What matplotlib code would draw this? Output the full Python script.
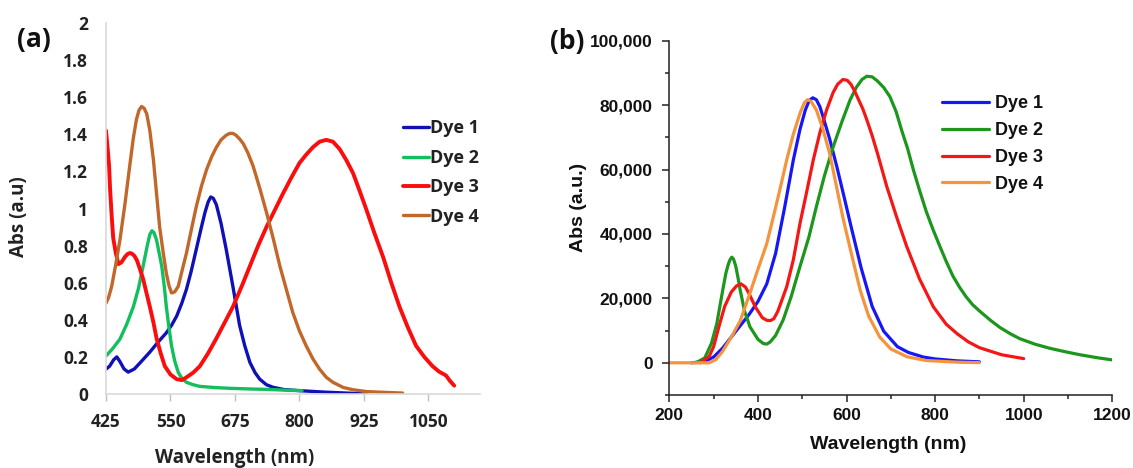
################
# IMPORTS
################
import matplotlib
matplotlib.use("Agg")
import matplotlib.pyplot as plt
import numpy as np

################
# DATA
################
# panel (a): measured absorbance, values read off the chart
wl_a_dye1 = [425, 432, 440, 446, 452, 460, 468, 480, 495, 510, 526, 542, 552, 562, 572, 581,
             590, 600, 610, 617, 623, 628, 633, 639, 648, 658, 671, 684, 694, 704, 714, 723,
             736, 749, 770, 800, 850, 900, 929]
abs_a_dye1 = [0.134, 0.15, 0.185, 0.2, 0.175, 0.135, 0.118, 0.135, 0.18, 0.226, 0.28, 0.33, 0.37,
              0.42, 0.49, 0.565, 0.66, 0.78, 0.9, 0.98, 1.035, 1.062, 1.055, 1.02, 0.92, 0.78,
              0.58, 0.37, 0.26, 0.17, 0.115, 0.08, 0.05, 0.036, 0.024, 0.018, 0.01, 0.004, 0.0]

wl_a_dye2 = [425, 438, 452, 465, 478, 488, 497, 505, 510, 514, 518, 523, 528, 533, 538, 542,
             547, 552, 558, 565, 572, 581, 594, 607, 640, 671, 705, 736, 770, 805]
abs_a_dye2 = [0.205, 0.245, 0.296, 0.375, 0.47, 0.57, 0.69, 0.8, 0.86, 0.88, 0.87, 0.83, 0.76,
              0.69, 0.58, 0.47, 0.36, 0.26, 0.18, 0.117, 0.085, 0.063, 0.05, 0.041, 0.034, 0.03,
              0.027, 0.025, 0.021, 0.018]

wl_a_dye3 = [425, 428, 431, 433, 436, 439, 444, 449, 455, 462, 467, 471, 475, 480, 485, 490,
             497, 503, 510, 517, 523, 531, 539, 550, 562, 572, 581, 594, 607, 623, 639, 655,
             671, 688, 704, 720, 736, 752, 768, 784, 800, 813, 826, 839, 852, 865, 878, 891,
             904, 916, 929, 945, 962, 978, 994, 1010, 1026, 1042, 1058, 1071, 1084, 1092, 1100]
abs_a_dye3 = [1.42, 1.33, 1.23, 1.1, 0.96, 0.84, 0.76, 0.7, 0.71, 0.74, 0.755, 0.76, 0.757,
              0.745, 0.72, 0.68, 0.62, 0.55, 0.47, 0.385, 0.3, 0.22, 0.15, 0.105, 0.08, 0.075,
              0.09, 0.115, 0.15, 0.22, 0.3, 0.385, 0.47, 0.58, 0.69, 0.8, 0.9, 0.99, 1.08, 1.165,
              1.245, 1.29, 1.33, 1.36, 1.37, 1.36, 1.32, 1.26, 1.19, 1.1, 1.0, 0.87, 0.74, 0.6,
              0.47, 0.36, 0.26, 0.2, 0.15, 0.12, 0.1, 0.07, 0.045]

wl_a_dye4 = [425, 430, 436, 444, 452, 462, 471, 478, 484, 489, 494, 499, 504, 510, 517, 523,
             529, 536, 542, 547, 552, 558, 565, 572, 581, 590, 600, 610, 620, 630, 639, 648,
             658, 665, 671, 677, 684, 691, 700, 710, 723, 736, 749, 762, 775, 787, 800, 813,
             826, 839, 852, 865, 885, 904, 930, 955, 1000]
abs_a_dye4 = [0.49, 0.52, 0.58, 0.7, 0.83, 1.03, 1.23, 1.38, 1.48, 1.53, 1.55, 1.54, 1.51,
              1.42, 1.26, 1.08, 0.9, 0.76, 0.65, 0.585, 0.545, 0.55, 0.58, 0.66, 0.76, 0.88,
              1.01, 1.12, 1.21, 1.28, 1.33, 1.37, 1.395, 1.405, 1.405, 1.395, 1.375, 1.35, 1.3,
              1.23, 1.11, 0.98, 0.84, 0.69, 0.56, 0.44, 0.34, 0.26, 0.19, 0.134, 0.09, 0.063,
              0.035, 0.023, 0.013, 0.01, 0.005]

# panel (b): calculated spectra
wl_b_dye1 = [250, 280, 300, 320, 340, 360, 380, 400, 420, 440, 460, 480, 495, 507, 516, 524,
             532, 540, 548, 562, 578, 592, 610, 633, 658, 684, 715, 740, 773, 800, 850, 900]
abs_b_dye1 = [0, 400, 1800, 4500, 8000, 11500, 15000, 19000, 24500, 34000, 48000, 63000, 72500,
              78500, 81500, 82300, 81700, 79500, 76000, 69500, 61000, 53000, 42500, 29500, 17500,
              9800, 5000, 3200, 1800, 1200, 600, 300]

wl_b_dye2 = [260, 280, 295, 307, 316, 322, 328, 333, 337, 341, 345, 350, 355, 360, 370, 382,
             400, 412, 420, 428, 440, 457, 475, 495, 515, 532, 550, 570, 590, 608, 622, 635,
             646, 658, 670, 684, 698, 712, 725, 738, 751, 765, 780, 795, 811, 825, 840, 855,
             870, 885, 901, 925, 946, 970, 991, 1025, 1059, 1095, 1127, 1165, 1200]
abs_b_dye2 = [0, 1500, 6000, 12000, 19000, 23600, 28000, 30500, 32000, 32800, 32200, 30000,
              26500, 22600, 16000, 11200, 7300, 6000, 5800, 6500, 8500, 13300, 20500, 29900,
              39000, 48500, 58000, 67100, 75000, 81600, 85500, 88000, 89000, 88800, 87500, 85500,
              82650, 78000, 72000, 66500, 59900, 53500, 47000, 41500, 36100, 31500, 27000, 23500,
              20500, 18000, 16000, 13200, 11000, 9000, 7500, 5800, 4500, 3400, 2500, 1600, 900]

wl_b_dye3 = [270, 290, 300, 312, 325, 340, 352, 362, 372, 380, 394, 410, 420, 428, 436, 445,
             465, 480, 495, 510, 525, 540, 555, 570, 580, 592, 602, 610, 618, 628, 637, 646,
             658, 670, 691, 715, 736, 765, 796, 825, 850, 875, 900, 950, 1000]
abs_b_dye3 = [0, 2000, 5000, 11200, 17500, 22000, 23900, 24500, 23500, 21500, 17400, 14000,
              13200, 13100, 13700, 16000, 23600, 32000, 43300, 53000, 63000, 71500, 78500, 84000,
              86500, 88000, 87700, 86500, 84500, 81500, 78800, 75400, 70500, 65000, 54700, 44500,
              36100, 26000, 17400, 12000, 9000, 6500, 4700, 2500, 1300]

wl_b_dye4 = [200, 290, 305, 320, 340, 360, 382, 400, 420, 435, 450, 465, 480, 495, 505, 512,
             520, 532, 547, 562, 577, 592, 610, 631, 650, 675, 700, 736, 780, 850, 900]
abs_b_dye4 = [0, 0, 1000, 3500, 8000, 13000, 21600, 29000, 37000, 45400, 54000, 63000, 71000,
              77500, 80800, 81700, 81200, 78500, 72500, 65000, 55000, 45000, 34500, 22500, 14500,
              8000, 4300, 1900, 700, 200, 50]

dye_labels = ["Dye 1", "Dye 2", "Dye 3", "Dye 4"]
colors_a = ["#1010b8", "#12bf5e", "#fb0d0d", "#c2672a"]
colors_b = ["#1717f5", "#1c961c", "#f51616", "#f4943e"]

xticks_a = [425, 550, 675, 800, 925, 1050]
yticks_a = [0, 0.2, 0.4, 0.6, 0.8, 1, 1.2, 1.4, 1.6, 1.8, 2]
ytick_labels_a = ["0", "0.2", "0.4", "0.6", "0.8", "1", "1.2", "1.4", "1.6", "1.8", "2"]

xticks_b = [200, 400, 600, 800, 1000, 1200]
yticks_b = [0, 20000, 40000, 60000, 80000, 100000]
ytick_labels_b = ["0", "20,000", "40,000", "60,000", "80,000", "100,000"]

################
# FIGURE
################
fig = plt.figure(figsize=(11.33, 4.68), dpi=100)
ax_a = fig.add_axes([106 / 1133, 1 - 394 / 468, 374 / 1133, 371 / 468])
ax_b = fig.add_axes([669.3 / 1133, 1 - 395 / 468, 443 / 1133, 354.2 / 468])

font_a = "Open Sans"
font_b = "Liberation Sans"

# panel (a), excel style
series_a = [(wl_a_dye1, abs_a_dye1), (wl_a_dye2, abs_a_dye2), (wl_a_dye3, abs_a_dye3),
            (wl_a_dye4, abs_a_dye4)]
for (wl, ab), col, lab in zip(series_a, colors_a, dye_labels):
    lw = 2.8 if lab == "Dye 3" else 2.4
    ax_a.plot(wl, ab, color=col, lw=lw, label=lab, solid_capstyle="round",
              solid_joinstyle="round")

ax_a.set_xlim(425, 1150)
ax_a.set_ylim(0, 2)
ax_a.set_xticks(xticks_a)
ax_a.set_xticklabels([str(t) for t in xticks_a])
ax_a.set_yticks(yticks_a)
ax_a.set_yticklabels(ytick_labels_a)
for side in ["top", "right"]:
    ax_a.spines[side].set_visible(False)
for side in ["left", "bottom"]:
    ax_a.spines[side].set_color("#d9d9d9")
    ax_a.spines[side].set_linewidth(1.2)
ax_a.tick_params(axis="y", length=0, pad=13)
ax_a.tick_params(axis="x", length=5, width=1, color="#bfbfbf", pad=9)
for lbl in ax_a.get_xticklabels() + ax_a.get_yticklabels():
    lbl.set_fontfamily(font_a)
    lbl.set_fontweight("bold")
    lbl.set_fontsize(12.5)
    lbl.set_color("#222222")

ax_a.set_xlabel("Wavelength (nm)", fontfamily=font_a, fontweight="bold", fontsize=13.5,
                color="#222222")
ax_a.xaxis.set_label_coords(0.345, -0.145)
ax_a.set_ylabel("Abs (a.u)", fontfamily=font_a, fontweight="bold", fontsize=13.5, color="#222222")
ax_a.yaxis.set_label_coords(-0.205, 0.477)

leg_a = ax_a.legend(loc="upper left", bbox_to_anchor=(0.795, 0.74), frameon=False,
                    borderaxespad=0, borderpad=0, handlelength=1.4, handletextpad=0.1,
                    labelspacing=0.63, prop={"family": font_a, "weight": "bold", "size": 13})
for t in leg_a.get_texts():
    t.set_color("#222222")

# panel (b), origin style
series_b = [(wl_b_dye1, abs_b_dye1), (wl_b_dye2, abs_b_dye2), (wl_b_dye3, abs_b_dye3),
            (wl_b_dye4, abs_b_dye4)]
for (wl, ab), col, lab in zip(series_b, colors_b, dye_labels):
    ax_b.plot(wl, ab, color=col, lw=2.3, label=lab, solid_capstyle="round",
              solid_joinstyle="round")

ax_b.set_xlim(200, 1200)
ax_b.set_ylim(-10000, 100000)
ax_b.set_xticks(xticks_b)
ax_b.set_xticklabels([str(t) for t in xticks_b])
ax_b.set_xticks(np.arange(300, 1200, 200), minor=True)
ax_b.set_yticks(yticks_b)
ax_b.set_yticklabels(ytick_labels_b)
ax_b.set_yticks(np.arange(-10000, 100000, 20000), minor=True)
for side in ["top", "right"]:
    ax_b.spines[side].set_visible(False)
for side in ["left", "bottom"]:
    ax_b.spines[side].set_color("#222222")
    ax_b.spines[side].set_linewidth(1.1)
ax_b.tick_params(which="major", length=5, width=1.1, color="#222222", direction="out")
ax_b.tick_params(which="minor", length=3, width=1.1, color="#222222", direction="out")
ax_b.tick_params(axis="y", which="major", pad=7)
ax_b.tick_params(axis="x", which="major", pad=4)
for lbl in ax_b.get_xticklabels() + ax_b.get_yticklabels():
    lbl.set_fontfamily(font_b)
    lbl.set_fontweight("bold")
    lbl.set_fontsize(12.5)
    lbl.set_color("#111111")

ax_b.set_xlabel("Wavelength (nm)", fontfamily=font_b, fontweight="bold", fontsize=14,
                color="#111111")
ax_b.xaxis.set_label_coords(0.494, -0.115)
ax_b.set_ylabel("Abs (a.u.)", fontfamily=font_b, fontweight="bold", fontsize=14, color="#111111")
ax_b.yaxis.set_label_coords(-0.185, 0.53)

leg_b = ax_b.legend(loc="upper left", bbox_to_anchor=(0.615, 0.846), frameon=False,
                    borderaxespad=0, borderpad=0, handlelength=2.6, handletextpad=0.35,
                    labelspacing=0.54, prop={"family": font_b, "weight": "bold", "size": 13})
for t in leg_b.get_texts():
    t.set_color("#111111")

# panel letters
fig.text(34 / 1133, 1 - 40 / 468, "(a)", ha="center", va="center", fontfamily=font_a,
         fontweight="bold", fontsize=19, color="#111111")
fig.text(567 / 1133, 1 - 42 / 468, "(b)", ha="center", va="center", fontfamily=font_a,
         fontweight="bold", fontsize=19, color="#111111")

fig.savefig("out.png", dpi=100)
